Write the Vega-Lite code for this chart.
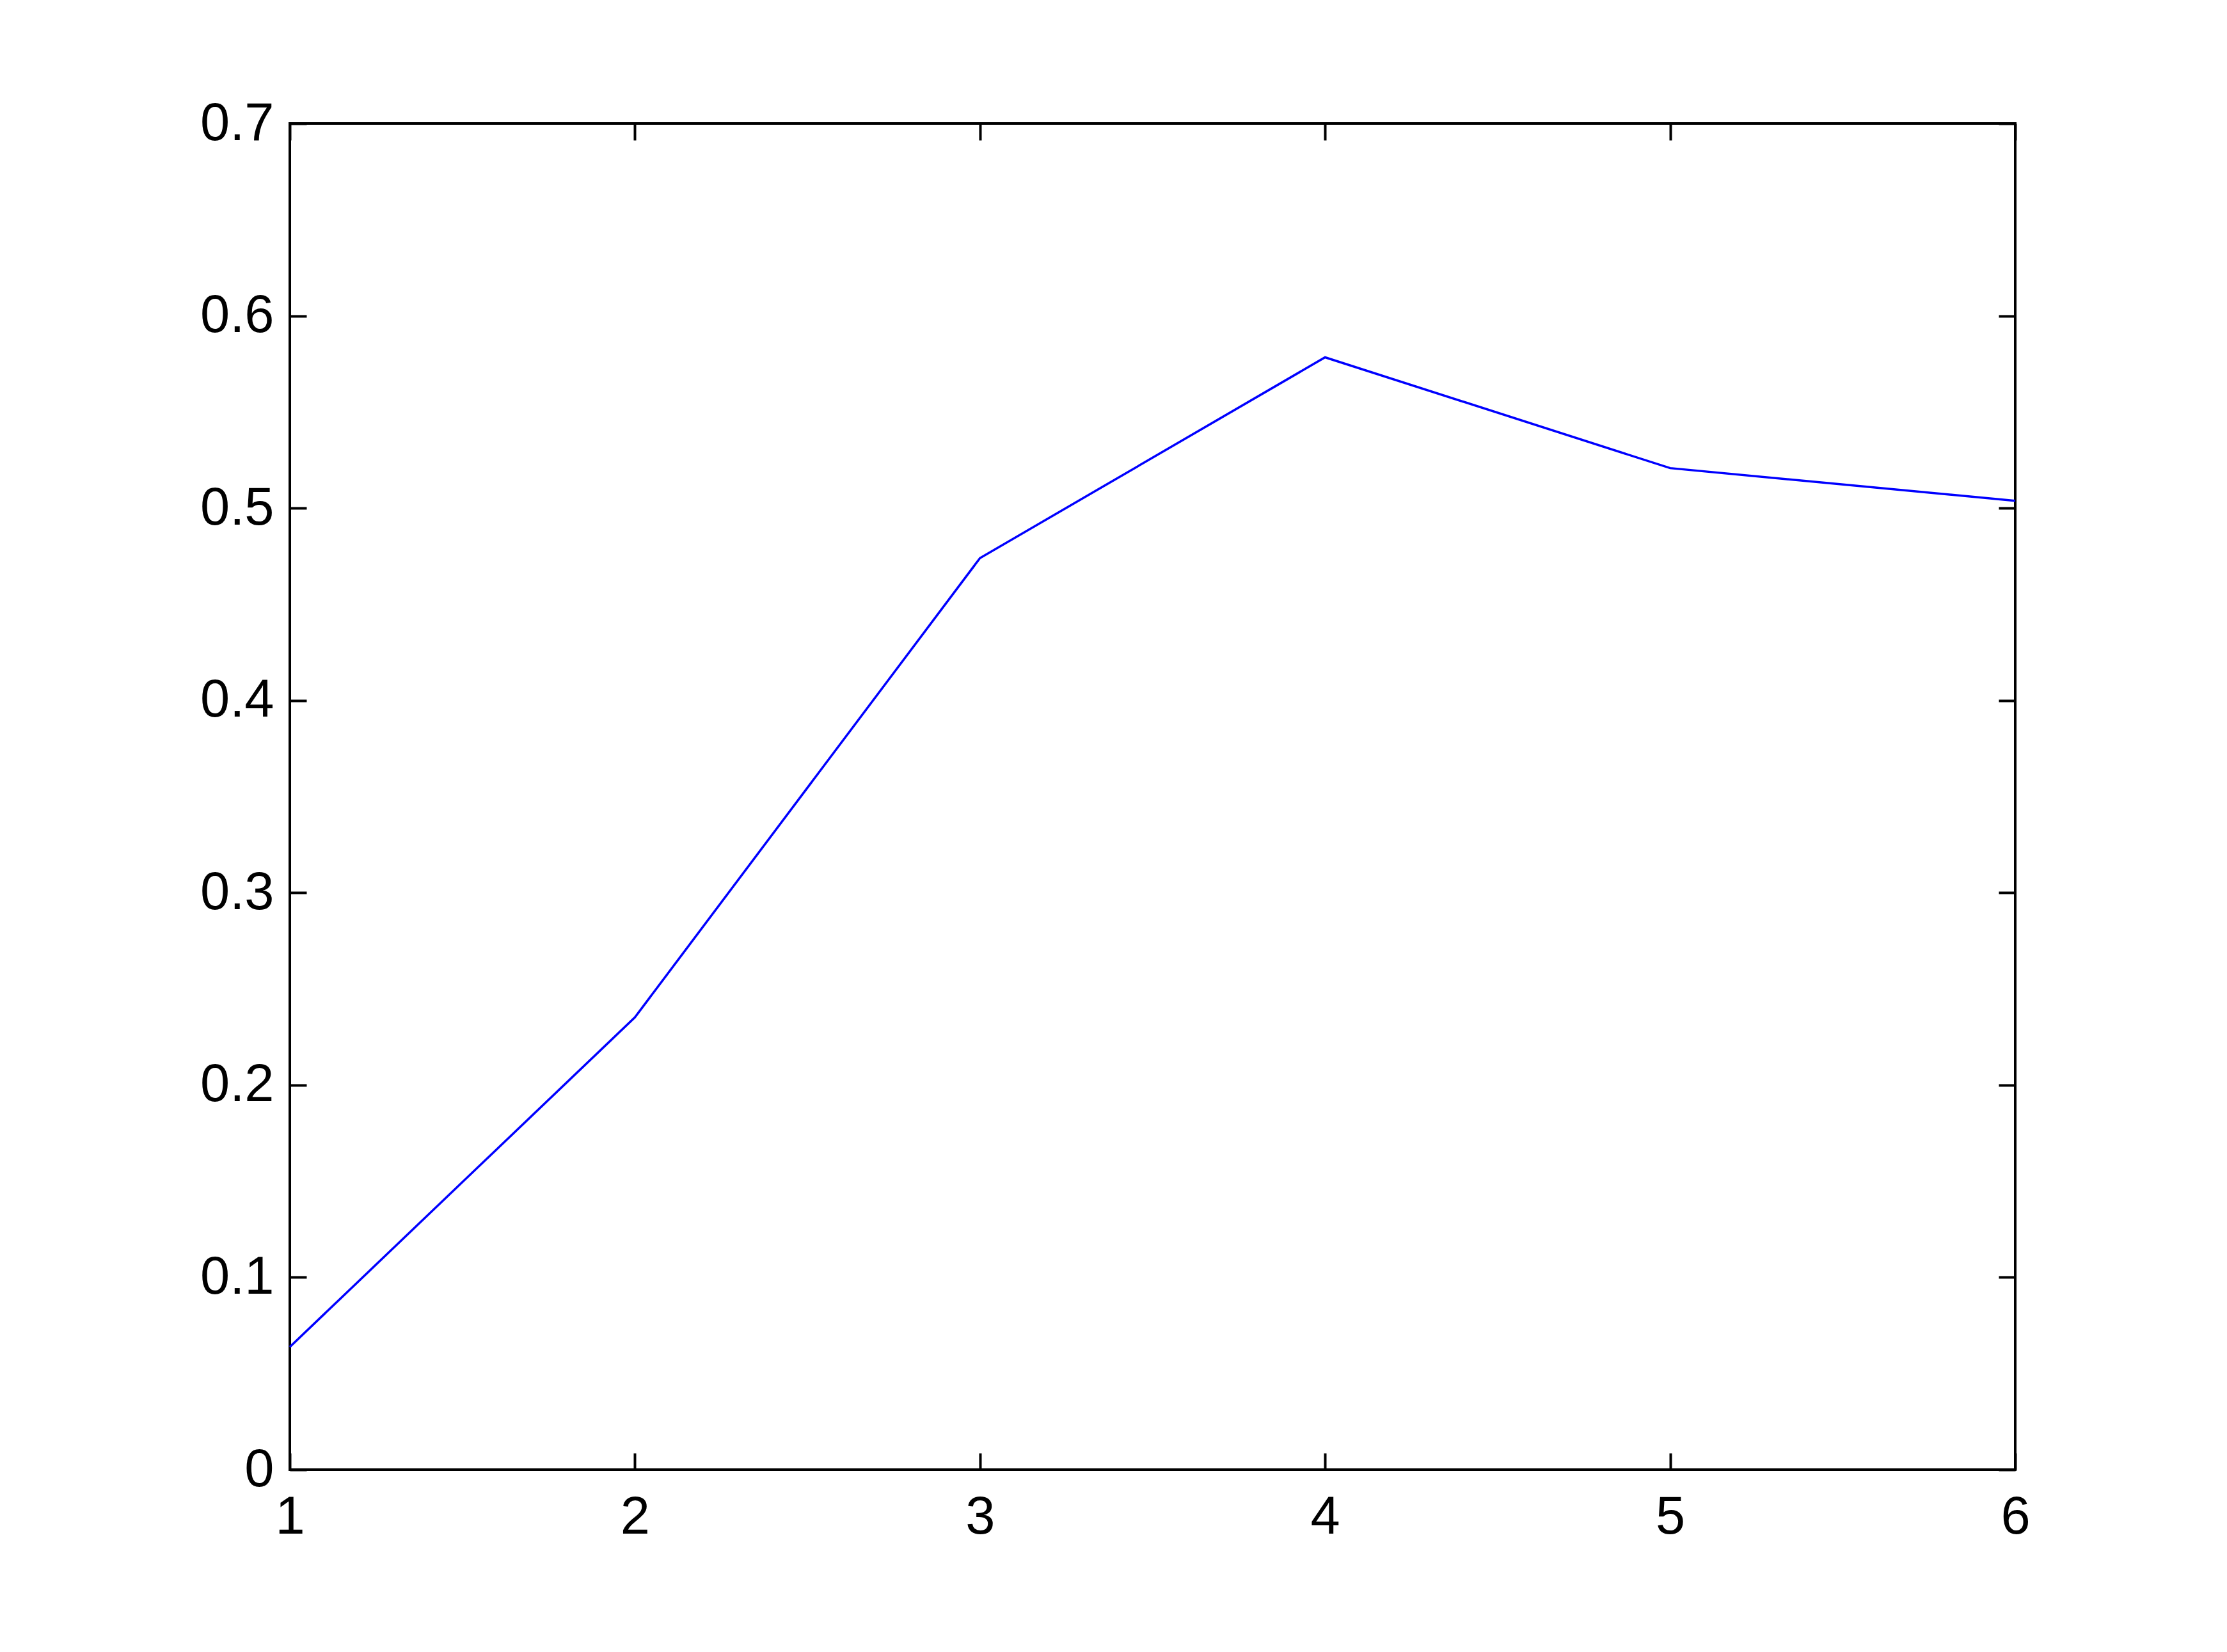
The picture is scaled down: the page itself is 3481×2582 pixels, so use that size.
{
  "$schema": "https://vega.github.io/schema/vega-lite/v6.json",
  "width": 2697,
  "height": 2104,
  "autosize": {"type": "none"},
  "padding": {"left": 453, "top": 193, "right": 331, "bottom": 285},
  "background": "white",
  "config": {
    "view": {"stroke": "black", "strokeWidth": 4},
    "axis": {
      "grid": false,
      "domain": false,
      "tickColor": "black",
      "tickWidth": 4,
      "tickSize": -26,
      "labelFont": "Liberation Sans",
      "labelFontSize": 83,
      "labelColor": "black",
      "title": null
    }
  },
  "data": {
    "values": [
      {"x": 1, "y": 0.0638},
      {"x": 2, "y": 0.2352},
      {"x": 3, "y": 0.474},
      {"x": 4, "y": 0.5784},
      {"x": 5, "y": 0.5208},
      {"x": 6, "y": 0.5038}
    ]
  },
  "layer": [
    {
      "mark": {"type": "line", "color": "#0000ff", "strokeWidth": 3.5},
      "encoding": {
        "x": {"field": "x", "type": "quantitative", "scale": {"domain": [1, 6], "nice": false, "zero": false},
          "axis": {"orient": "bottom", "values": [1, 2, 3, 4, 5, 6], "format": "d", "labelPadding": 59, "labelBaseline": "top", "labelAlign": "center", "labelFlush": false}},
        "y": {"field": "y", "type": "quantitative", "scale": {"domain": [0, 0.7], "nice": false},
          "axis": {"orient": "left", "values": [0, 0.1, 0.2, 0.3, 0.4, 0.5, 0.6, 0.7], "format": ".1~f", "labelPadding": 51, "labelBaseline": "middle", "labelAlign": "right", "labelFlush": false}}
      }
    },
    {
      "mark": {"type": "line", "opacity": 0},
      "encoding": {
        "x": {"field": "x", "type": "quantitative",
          "axis": {"orient": "top", "values": [1, 2, 3, 4, 5, 6], "labels": false}},
        "y": {"field": "y", "type": "quantitative",
          "axis": {"orient": "right", "values": [0, 0.1, 0.2, 0.3, 0.4, 0.5, 0.6, 0.7], "labels": false}}
      }
    }
  ],
  "resolve": {"axis": {"x": "independent", "y": "independent"}}
}
